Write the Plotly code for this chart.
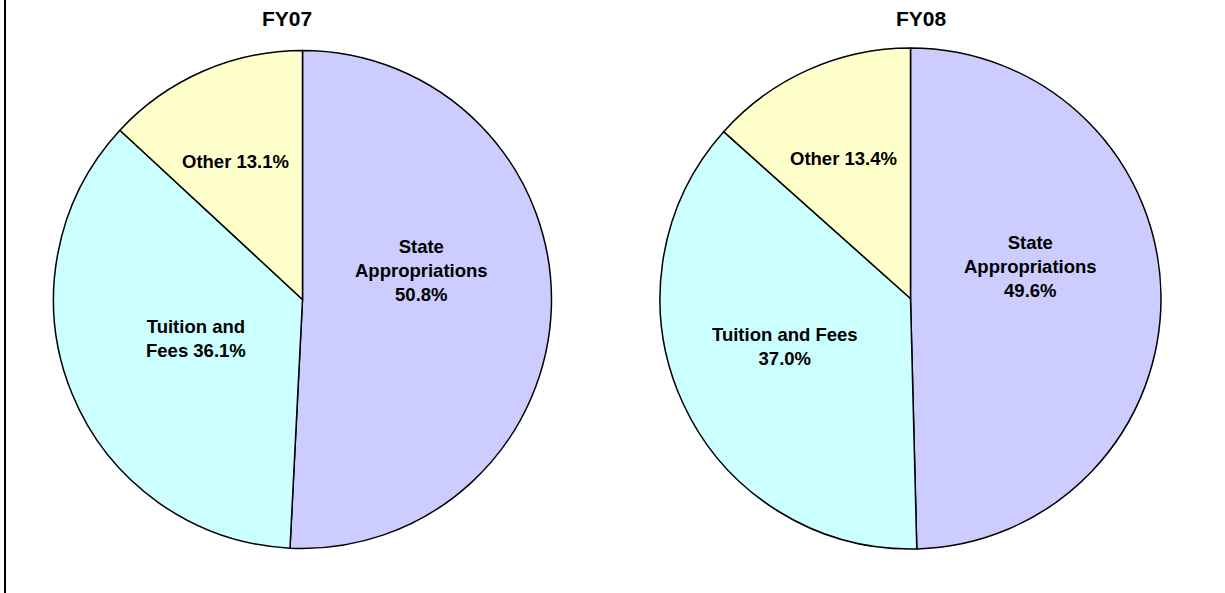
import plotly.graph_objects as go

W, H = 1225, 593

categories = ["State Appropriations", "Tuition and Fees", "Other"]
fy07_values = [50.8, 36.1, 13.1]
fy08_values = [49.6, 37.0, 13.4]
fy07_labels = ["State<br>Appropriations<br>50.8%", "Tuition and<br>Fees 36.1%", "Other 13.1%"]
fy08_labels = ["State<br>Appropriations<br>49.6%", "Tuition and Fees<br>37.0%", "Other 13.4%"]
titles = ["FY07", "FY08"]
colors = ["#CCCCFF", "#CCFFFF", "#FFFFCC"]

FONT = "Liberation Sans, Arial, sans-serif"


def px_x(v):
    return v / W


def px_y(v):
    return 1 - v / H


fig = go.Figure()

# pie geometry (pixel boxes)
pies = [
    dict(values=fy07_values, x0=53.5, x1=551.5, y0=50.5, y1=548.5),
    dict(values=fy08_values, x0=660, x1=1161, y0=48, y1=549),
]

for p in pies:
    fig.add_trace(go.Pie(
        labels=categories,
        values=p["values"],
        sort=False,
        direction="clockwise",
        rotation=0,
        textinfo="none",
        hoverinfo="label+percent",
        marker=dict(colors=colors, line=dict(color="black", width=1.5)),
        domain=dict(x=[px_x(p["x0"]), px_x(p["x1"])],
                    y=[px_y(p["y1"]), px_y(p["y0"])]),
        showlegend=False,
    ))

annotations = []
# titles
for t, (cx, cy) in zip(titles, [(287, 19), (921, 19)]):
    annotations.append(dict(text=t, x=px_x(cx), y=px_y(cy), xref="paper", yref="paper",
                            showarrow=False, xanchor="center", yanchor="middle",
                            font=dict(family=FONT, size=21, color="black", weight="bold")))

label_pos = [
    (fy07_labels, [(421, 270), (196, 338), (235, 161)]),
    (fy08_labels, [(1030, 266), (785, 346), (843, 159)]),
]
for labels, poss in label_pos:
    for txt, (cx, cy) in zip(labels, poss):
        annotations.append(dict(text=txt, x=px_x(cx), y=px_y(cy), xref="paper", yref="paper",
                                showarrow=False, xanchor="center", yanchor="middle",
                                align="center",
                                font=dict(family=FONT, size=18.5, color="black", weight="bold")))

fig.update_layout(
    width=W, height=H,
    margin=dict(l=0, r=0, t=0, b=0),
    paper_bgcolor="white",
    plot_bgcolor="white",
    annotations=annotations,
    shapes=[dict(type="line", xref="paper", yref="paper",
                 x0=px_x(5), x1=px_x(5), y0=0, y1=1,
                 line=dict(color="black", width=2))],
)

fig.write_html("out.html", config={"displayModeBar": False},
               post_script="document.body.style.margin='0';document.body.style.overflow='hidden';")
